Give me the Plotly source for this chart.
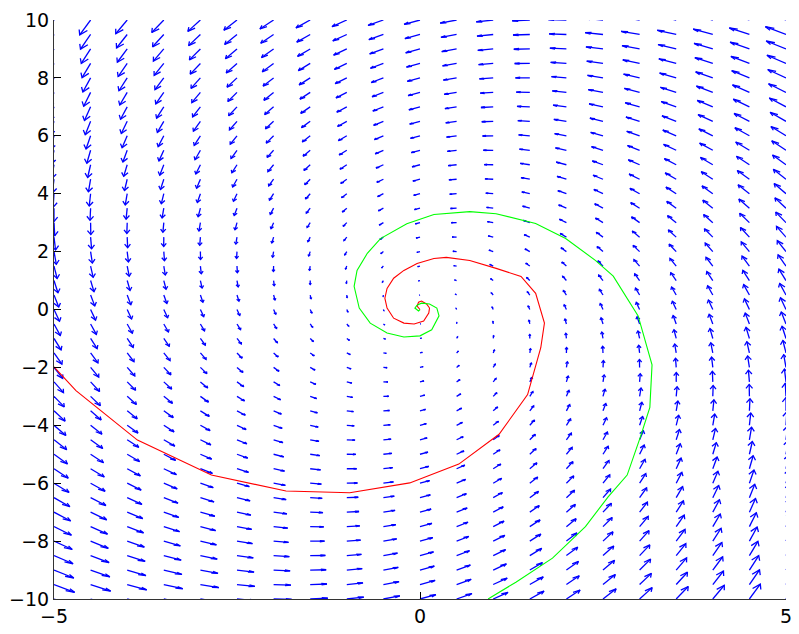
import numpy as np
import plotly.graph_objects as go

# ---- grid of the direction field ----
x_grid = np.linspace(-5, 5, 21)
y_grid = np.linspace(-10, 10, 41)

# linear system  x' = A [x, y]  (estimated from arrow directions)
A = [[-0.185, -0.266],
     [1.0, -0.181]]
arrow_scale = 0.0816
head_alpha = 0.33
head_beta = 0.33

# ---- trajectories ----
red_x = [-5.00, -4.70, -3.86, -2.85, -1.83, -0.96, -0.14, 0.53, 1.08, 1.47, 1.65, 1.70,
         1.58, 1.38, 1.04, 0.68, 0.36, 0.19, -0.04, -0.22, -0.36, -0.45, -0.48, -0.45,
         -0.36, -0.22, -0.08, 0.05, 0.12, 0.13, 0.09, 0.02, -0.02, -0.04, 0.0]
red_y = [-1.98, -2.80, -4.51, -5.72, -6.27, -6.33, -5.99, -5.34, -4.31, -2.94, -1.32, -0.47,
         0.56, 1.14, 1.42, 1.69, 1.80, 1.76, 1.59, 1.35, 1.08, 0.73, 0.39, 0.05,
         -0.30, -0.47, -0.50, -0.40, -0.12, 0.05, 0.19, 0.29, 0.25, 0.12, 0.0]

green_x = [0.93, 1.31, 1.81, 2.26, 2.57, 2.83, 3.01, 3.14, 3.17, 2.98, 2.64, 2.40, 1.99,
           1.58, 1.04, 0.68, 0.19, -0.18, -0.54, -0.72, -0.86, -0.90, -0.83, -0.68,
           -0.45, -0.22, 0.0, 0.16, 0.26, 0.23, 0.13, 0.02, -0.04, -0.07, -0.02, 0.0]
green_y = [-10.0, -9.42, -8.59, -7.50, -6.47, -5.72, -4.41, -3.38, -1.91, -0.22, 1.15, 1.69,
           2.45, 2.97, 3.31, 3.38, 3.28, 2.96, 2.45, 1.94, 1.35, 0.80, 0.05, -0.47,
           -0.81, -0.95, -0.91, -0.70, -0.22, 0.05, 0.19, 0.22, 0.15, 0.05, -0.05, 0.0]

x_ticks = [-5, 0, 5]
y_ticks = [-10, -8, -6, -4, -2, 0, 2, 4, 6, 8, 10]

# ---- build quiver segments (MATLAB-style arrows) ----
X, Y = np.meshgrid(x_grid, y_grid)
X = X.ravel()
Y = Y.ravel()
U = arrow_scale * (A[0][0] * X + A[0][1] * Y)
V = arrow_scale * (A[1][0] * X + A[1][1] * Y)

qx, qy = [], []
eps = 1e-12
for x, y, u, v in zip(X, Y, U, V):
    qx += [x, x + u, None]
    qy += [y, y + v, None]
    qx += [x + u - head_alpha * (u + head_beta * (v + eps)), x + u,
           x + u - head_alpha * (u - head_beta * (v + eps)), None]
    qy += [y + v - head_alpha * (v - head_beta * (u + eps)), y + v,
           y + v - head_alpha * (v + head_beta * (u + eps)), None]

fig = go.Figure()
fig.add_trace(go.Scatter(x=qx, y=qy, mode="lines",
                         line=dict(color="rgb(0,0,255)", width=1.3),
                         hoverinfo="skip", showlegend=False))
fig.add_trace(go.Scatter(x=red_x, y=red_y, mode="lines",
                         line=dict(color="rgb(255,0,0)", width=1.1), showlegend=False))
fig.add_trace(go.Scatter(x=green_x, y=green_y, mode="lines",
                         line=dict(color="rgb(0,255,0)", width=1.1), showlegend=False))

axis_font = dict(family="DejaVu Sans, Liberation Sans, Arial, sans-serif", size=19, color="black")
fig.update_layout(
    width=799, height=634, autosize=False,
    margin=dict(l=54, r=7, t=20, b=31, pad=0),
    paper_bgcolor="white", plot_bgcolor="white",
    xaxis=dict(range=[-5, 5], tickvals=x_ticks, ticks="inside", ticklen=7,
               tickcolor="black", showline=True, linecolor="#333333", linewidth=1,
               showgrid=False, zeroline=False, tickfont=axis_font, mirror=False),
    yaxis=dict(range=[-10, 10], tickvals=y_ticks, ticks="inside", ticklen=7,
               tickcolor="black", showline=True, linecolor="#333333", linewidth=1,
               showgrid=False, zeroline=False, tickfont=axis_font, mirror=False),
)
fig.write_html("out.html")
